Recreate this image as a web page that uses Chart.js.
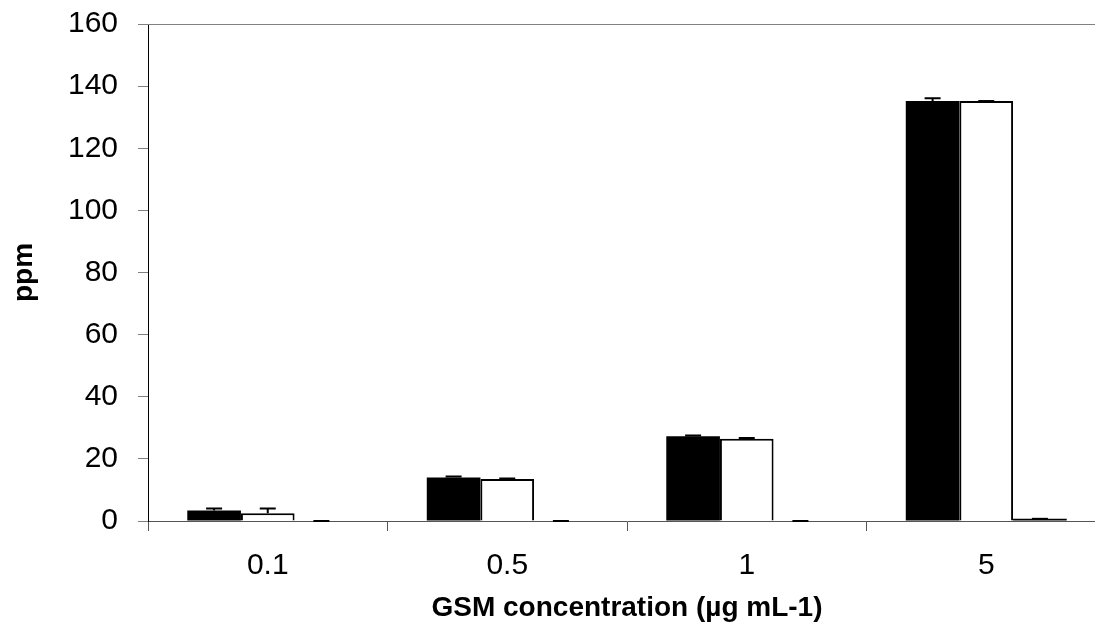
<!DOCTYPE html>
<html>
<head>
<meta charset="utf-8">
<script src="https://cdn.jsdelivr.net/npm/chart.js@4"></script>
<style>
  html, body { margin: 0; padding: 0; background: #fff; overflow: hidden; }
  #wrap { width: 1095px; height: 629px; overflow: hidden; }
  canvas { display: block; }
</style>
</head>
<body>
<div id="wrap"><canvas id="c" width="1110" height="629"></canvas></div>
<script>
// GSM concentrations (µg mL-1) on the category axis
const categories = ['0.1', '0.5', '1', '5'];

// measured ppm per concentration, three series
const seriesBlack = [3.4, 14.0, 27.3, 135.2];
const seriesWhite = [2.5, 13.5, 26.5, 135.2];
const seriesThird = [0, 0, 0, 0.7];

// standard deviations drawn as upper error bars
const errBlack = [0.6, 0.3, 0.2, 0.9];
const errWhite = [1.5, 0.2, 0.2, 0];
const errThird = [0, 0, 0, 0];

const yTicks = [0, 20, 40, 60, 80, 100, 120, 140, 160];

const FONT = "'Liberation Sans', Arial, sans-serif";

// upper error bars with a short cap, positioned through the chart scales
const errorBars = {
  id: 'errorBars',
  afterDatasetsDraw(chart) {
    const ctx = chart.ctx;
    const y = chart.scales.y;
    ctx.save();
    ctx.strokeStyle = '#000';
    ctx.lineWidth = 2;
    chart.data.datasets.forEach((ds, i) => {
      const meta = chart.getDatasetMeta(i);
      meta.data.forEach((bar, j) => {
        const v = ds.data[j];
        const e = ds.errors[j];
        const x = bar.x;
        const yTop = y.getPixelForValue(v + e);
        const yVal = y.getPixelForValue(v);
        ctx.beginPath();
        ctx.moveTo(x, yVal);
        ctx.lineTo(x, yTop);
        ctx.moveTo(x - 8, yTop);
        ctx.lineTo(x + 8, yTop);
        ctx.stroke();
      });
    });
    ctx.restore();
  }
};

// thin grey border along the top of the plot area
const plotBorder = {
  id: 'plotBorder',
  afterDraw(chart) {
    const a = chart.chartArea;
    const ctx = chart.ctx;
    ctx.save();
    ctx.strokeStyle = '#808080';
    ctx.lineWidth = 1;
    ctx.beginPath();
    ctx.moveTo(a.left - 10, Math.round(a.top) + 0.5);
    ctx.lineTo(a.right, Math.round(a.top) + 0.5);
    ctx.stroke();
    ctx.restore();
  }
};

new Chart(document.getElementById('c'), {
  type: 'bar',
  data: {
    labels: categories,
    datasets: [
      { data: seriesBlack, errors: errBlack, backgroundColor: '#000', borderColor: '#000', borderWidth: 0 },
      { data: seriesWhite, errors: errWhite, backgroundColor: '#fff', borderColor: '#000', borderWidth: 2 },
      { data: seriesThird, errors: errThird, backgroundColor: '#000', borderColor: '#000', borderWidth: 0 }
    ]
  },
  options: {
    responsive: false,
    animation: false,
    devicePixelRatio: 1,
    categoryPercentage: 0.672,
    barPercentage: 1,
    layout: { padding: { top: 24, right: 4, left: 0, bottom: 0 } },
    plugins: {
      legend: { display: false },
      tooltip: { enabled: false }
    },
    scales: {
      x: {
        offset: true,
        grid: {
          offset: true,
          drawOnChartArea: false,
          drawTicks: true,
          tickLength: 10,
          tickColor: '#555'
        },
        border: { color: '#555', width: 1 },
        ticks: {
          color: '#000',
          padding: 17,
          font: { family: FONT, size: 30 },
          maxRotation: 0
        },
        title: {
          display: true,
          text: 'GSM concentration (µg mL-1)',
          color: '#000',
          font: { family: FONT, size: 28, weight: 'bold' },
          padding: { top: 0, bottom: 4 }
        },
        afterFit(scale) {
          scale.height = 108;
          scale.paddingLeft = 0;
          scale.paddingRight = 0;
        }
      },
      y: {
        min: 0,
        max: 160,
        afterBuildTicks(scale) { scale.ticks = yTicks.map(v => ({ value: v })); },
        grid: {
          drawOnChartArea: false,
          drawTicks: true,
          tickLength: 10,
          tickColor: '#808080'
        },
        border: { color: '#000', width: 1 },
        ticks: {
          color: '#000',
          padding: 20,
          font: { family: FONT, size: 30 }
        },
        title: {
          display: true,
          text: 'ppm',
          color: '#000',
          font: { family: FONT, size: 28, weight: 'bold' },
          padding: { top: 7, bottom: 0 }
        },
        afterFit(scale) {
          scale.width = 148;
          scale.paddingTop = 0;
          scale.paddingBottom = 0;
        }
      }
    }
  },
  plugins: [errorBars, plotBorder]
});
</script>
</body>
</html>
